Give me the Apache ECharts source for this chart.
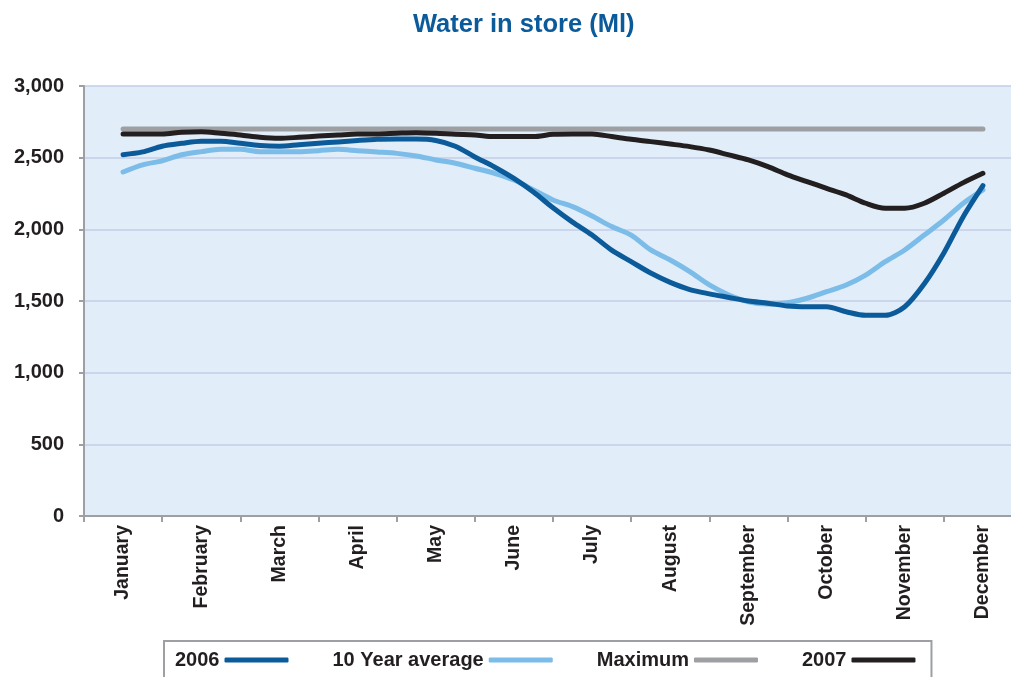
<!DOCTYPE html>
<html>
<head>
<meta charset="utf-8">
<title>Water in store (Ml)</title>
<script src="https://cdn.jsdelivr.net/npm/echarts@6/dist/echarts.min.js"></script>
<style>
  html, body { margin: 0; padding: 0; background: #fff; }
  #chart { width: 1011px; height: 677px; }
</style>
</head>
<body>
<div id="chart"></div>
<script>
// month labels (one band per month)
const months = ['January', 'February', 'March', 'April', 'May', 'June',
  'July', 'August', 'September', 'October', 'November', 'December']

// sample positions in months (0.5 = middle of January band)
const pos = [
  0.5, 0.75, 1, 1.25, 1.5, 1.75, 2, 2.25, 2.5, 2.75,
  3, 3.25, 3.5, 3.75, 4, 4.25, 4.5, 4.75, 5, 5.25,
  5.5, 5.75, 6, 6.25, 6.5, 6.75, 7, 7.25, 7.5, 7.75,
  8, 8.25, 8.5, 8.75, 9, 9.25, 9.5, 9.75, 10, 10.25,
  10.5, 10.75, 11, 11.25, 11.5,
]

const y2006 = [
  2520, 2540, 2580, 2600, 2615, 2615, 2600, 2585, 2580, 2590,
  2600, 2610, 2620, 2628, 2630, 2630, 2620, 2580, 2505, 2435,
  2355, 2260, 2150, 2050, 1960, 1855, 1775, 1695, 1630, 1580,
  1550, 1525, 1500, 1485, 1465, 1460, 1460, 1425, 1400, 1400,
  1460, 1620, 1835, 2090, 2305,
]

const yAverage = [
  2400, 2450, 2478, 2520, 2542, 2558, 2558, 2542, 2542, 2542,
  2549, 2558, 2549, 2540, 2530, 2512, 2484, 2461, 2426, 2391,
  2344, 2275, 2205, 2158, 2093, 2019, 1960, 1856, 1786, 1705,
  1612, 1542, 1495, 1479, 1488, 1519, 1565, 1612, 1681, 1774,
  1856, 1960, 2065, 2182, 2275,
]

const y2007 = [
  2665, 2665, 2665, 2677, 2681, 2670, 2658, 2642, 2635, 2642,
  2651, 2658, 2665, 2665, 2670, 2674, 2670, 2663, 2658, 2647,
  2647, 2647, 2663, 2665, 2665, 2647, 2628, 2612, 2595, 2577,
  2553, 2519, 2484, 2437, 2380, 2333, 2286, 2240, 2182, 2147,
  2147, 2182, 2252, 2326, 2391,
]

const maxPos = [0.5, 11.5]
const yMaximum = [2700, 2700]

const toPairs = (xs, ys) => xs.map((x, i) => [x, ys[i]])

const font = '"Liberation Sans", Arial, Helvetica, sans-serif'
const textColor = '#231f20'
const axisGrey = '#9d9fa2'

const chart = echarts.init(document.getElementById('chart'))

const lineSeries = (name, data, color, z) => ({
  name,
  type: 'line',
  xAxisIndex: 1,
  yAxisIndex: 0,
  data,
  z,
  smooth: 0.3,
  showSymbol: false,
  symbol: 'none',
  lineStyle: { color, width: 5, cap: 'round', join: 'round' },
  itemStyle: { color },
  emphasis: { disabled: true },
})

chart.setOption({
  animation: false,
  textStyle: { fontFamily: font },
  title: {
    text: 'Water in store (Ml)',
    left: 408,
    top: 7,
    textStyle: { color: '#0b5a9a', fontSize: 25.5, fontWeight: 'bold', fontFamily: font },
  },
  legend: {
    left: 164,
    top: 641,
    align: 'right',
    padding: [9, 16, 20, 11],
    itemGap: 44,
    itemWidth: 64,
    itemHeight: 5,
    icon: 'roundRect',
    borderColor: axisGrey,
    borderWidth: 2,
    textStyle: { color: textColor, fontSize: 20, fontWeight: 'bold', fontFamily: font },
    data: ['2006', '10 Year average', 'Maximum', '2007'],
  },
  // the plot runs a little past the right edge of the picture
  grid: {
    left: 84,
    top: 86,
    width: 938,
    height: 430,
    outerBoundsMode: 'none',
    containLabel: false,
    show: true,
    backgroundColor: '#e1edf8',
    borderWidth: 0,
  },
  xAxis: [
    {
      type: 'category',
      data: months,
      boundaryGap: true,
      axisLine: { lineStyle: { color: axisGrey, width: 2 } },
      axisTick: { show: true, interval: 0, length: 6, lineStyle: { color: axisGrey, width: 2 } },
      axisLabel: {
        interval: 0,
        rotate: 90,
        margin: 9,
        padding: [0, 0, 8, 0],
        color: textColor,
        fontSize: 19.5,
        fontWeight: 'bold',
        fontFamily: font,
      },
      splitLine: { show: false },
    },
    {
      type: 'value',
      min: 0,
      max: 12,
      show: false,
    },
  ],
  yAxis: {
    type: 'value',
    min: 0,
    max: 3000,
    interval: 500,
    axisLine: { show: true, lineStyle: { color: axisGrey, width: 2 } },
    axisTick: { show: true, length: 5, lineStyle: { color: axisGrey, width: 2 } },
    axisLabel: {
      margin: 20,
      color: textColor,
      fontSize: 20,
      fontWeight: 'bold',
      fontFamily: font,
      formatter: (v) => v.toLocaleString('en-US'),
    },
    splitLine: { show: true, lineStyle: { color: '#c3cce9', width: 1.5 } },
  },
  series: [
    lineSeries('2006', toPairs(pos, y2006), '#0b5a9a', 4),
    lineSeries('10 Year average', toPairs(pos, yAverage), '#7bbce8', 3),
    lineSeries('Maximum', toPairs(maxPos, yMaximum), '#9d9fa2', 2),
    lineSeries('2007', toPairs(pos, y2007), '#231f20', 5),
  ],
})

window.addEventListener('resize', () => chart.resize())
</script>
</body>
</html>
